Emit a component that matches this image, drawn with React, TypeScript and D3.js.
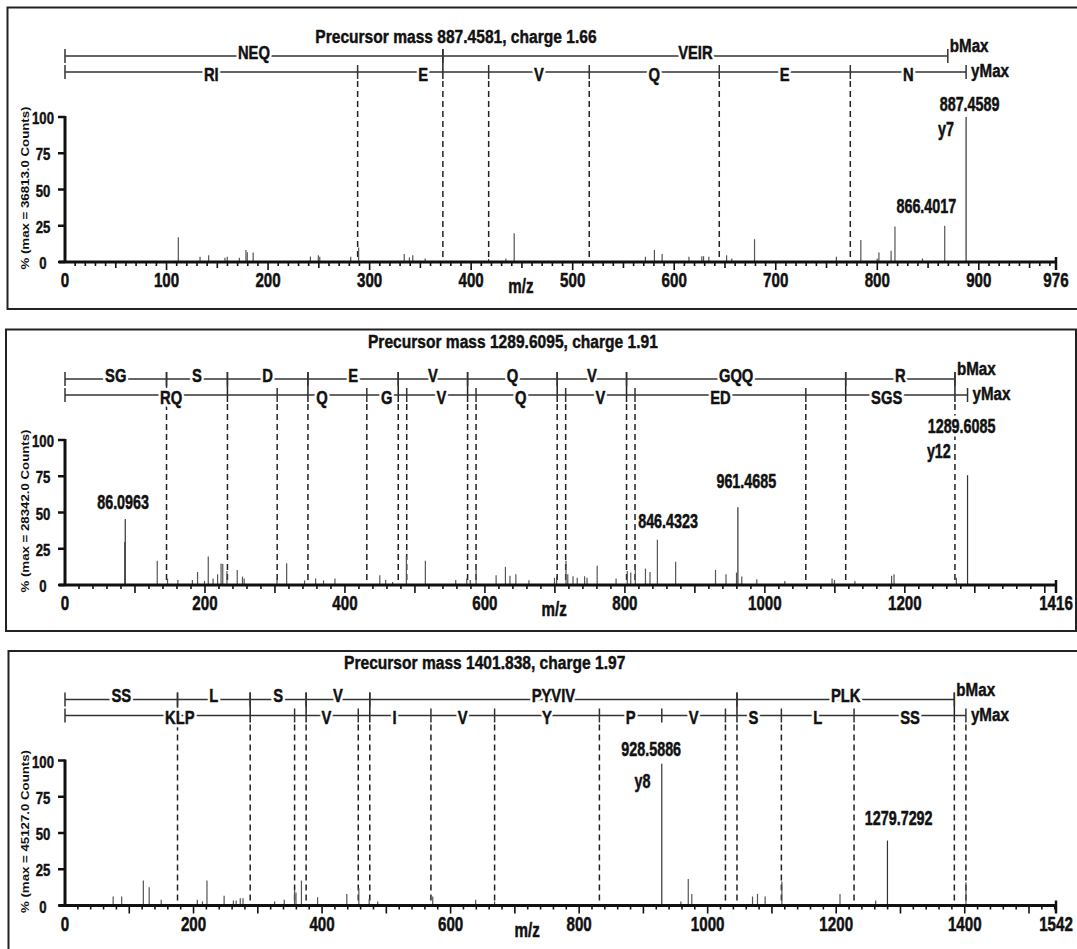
import React from "react";
import * as d3 from "d3";

const X_LEFT = 65;
const X_RIGHT = 1056;
const PLOT_H = 145;
const FONT = "'Liberation Sans', Arial, Helvetica, sans-serif";

// ---------- panel 1 : NEQVEIR ----------
const p1Peaks: [number, number][] = [
  [111.6, 17], [133, 3.7], [141.5, 4.6], [157.5, 3], [159.8, 3.7], [171.7, 3],
  [178.2, 8.3], [179.5, 6.7], [185.3, 6.5], [241.7, 3.7], [249.5, 4.6], [250.9, 3.7],
  [281.4, 3.7], [289.2, 10], [334.1, 5.5], [339.2, 3.2], [342.5, 4.6], [354.7, 2.5],
  [417.2, 2], [434.2, 2.5], [442.4, 19.8], [571.6, 3.7], [580.5, 8.3], [588.1, 5.5],
  [614.5, 3.7], [627.2, 4], [628.9, 4], [634.1, 3.7], [651.6, 4.6], [656.7, 2.5],
  [679.1, 15.7], [759.7, 3.7], [783.8, 15.2], [799.9, 2.5], [801.6, 6.5], [813.6, 7.8],
  [817.4, 24.4], [844.5, 2.5], [866.4017, 25], [887.4589, 100],
];
const p1BTicks = [0, 372.15, 869.44];
const p1BLabels = ["NEQ", "VEIR"];
const p1YTicks = [0, 288.2, 417.25, 516.31, 644.37, 773.42, 887.46];
const p1YLabels = ["RI", "E", "V", "Q", "E", "N"];
const p1Dashed = [288.2, 372.15, 417.25, 516.31, 644.37, 773.42];
const p1AxisLabels = [0, 100, 200, 300, 400, 500, 600, 700, 800, 900, 976];
const p1Notes = [
  { text: "887.4589", mz: 890.9, pct: 103.9 },
  { text: "y7", mz: 867.7, pct: 86.6 },
  { text: "866.4017", mz: 848.3, pct: 33.6 },
];

// ---------- panel 2 : SGSDEVQVGQQR ----------
const p2Peaks: [number, number][] = [
  [85.3, 29.7], [86.0963, 45.6], [131.8, 16.7], [146.5, 4.4], [161.3, 3.5], [182, 3.5],
  [189.4, 9], [199.3, 2.8], [204.7, 19.7], [211.6, 4.4], [218, 7.4], [223, 14.8],
  [225.4, 14.4], [231.4, 9.7], [246.1, 10.4], [253.6, 5.8], [256, 4.4], [302.9, 3.9],
  [316.7, 15], [342.3, 3.2], [358.1, 4.4], [369.4, 3.2], [385.7, 4.4], [449.8, 6.7],
  [458.2, 3.5], [468.1, 2], [487.8, 19.7], [514.9, 16.7], [558.3, 3.5], [574.1, 4.4],
  [579, 3.5], [587.4, 13.2], [616, 6.7], [629.3, 12.5], [635.8, 6.3], [644.2, 7.4],
  [662.9, 3.2], [699.4, 5], [702.4, 6], [715.9, 16.7], [718.4, 7.4], [725.9, 6],
  [731.9, 5], [742.4, 6], [745.9, 5], [760.4, 13.2], [787.4, 4.4], [803.4, 9.7],
  [808.4, 8.6], [814.9, 14.4], [829.4, 11.3], [835.9, 9], [846.4323, 31.2], [872.5, 16],
  [929.5, 10.4], [944.5, 7.4], [959.5, 8.6], [961.4685, 53.7], [967, 5.8], [988.5, 3.9],
  [1028.5, 2.8], [1096, 4.4], [1099.5, 3.5], [1128.6, 2.8], [1181.1, 6.3], [1184.6, 7.4],
  [1273.6, 5], [1289.6085, 75.7],
];
const p2BTicks = [0, 145.06, 232.09, 347.12, 476.16, 575.23, 703.29, 802.36, 1115.5, 1271.6];
const p2BLabels = ["SG", "S", "D", "E", "V", "Q", "V", "GQQ", "R"];
const p2YTicks = [0, 303.18, 431.24, 488.26, 587.33, 715.39, 814.46, 1058.53, 1289.61];
const p2YLabels = ["RQ", "Q", "G", "V", "Q", "V", "ED", "SGS"];
const p2Dashed = [
  145.06, 232.09, 303.18, 347.12, 431.24, 476.16, 488.26, 575.23, 587.33,
  703.29, 715.39, 802.36, 814.46, 1058.53, 1115.5, 1271.6,
];
const p2AxisLabels = [0, 200, 400, 600, 800, 1000, 1200, 1416];
const p2Notes = [
  { text: "86.0963", mz: 83, pct: 52.3 },
  { text: "846.4323", mz: 861.7, pct: 39.1 },
  { text: "961.4685", mz: 973.5, pct: 66.9 },
  { text: "1289.6085", mz: 1281.1, pct: 104.6 },
  { text: "y12", mz: 1248.6, pct: 87.3 },
];

// ---------- panel 3 : SSLSVPYVIVPLK ----------
const p3Peaks: [number, number][] = [
  [74.9, 6.2], [88.2, 6.2], [121.9, 17.2], [131, 12.6], [149.7, 3.9], [205.9, 3.9],
  [213.9, 2.8], [220.9, 17.2], [247.6, 6.7], [262, 3.4], [266.3, 3.4], [272.7, 5],
  [277, 5], [326.2, 2.8], [341.2, 3.9], [357.2, 10.3], [359.4, 9], [367.9, 17.2],
  [393, 5.7], [438.5, 8], [457.2, 12], [473.3, 4.4], [486.6, 2.8], [572.2, 6.2],
  [639, 3.9], [668.4, 2.8], [928.5886, 97.7], [958.3, 2.8], [969.8, 18.2], [975.3, 8],
  [1069.8, 6.2], [1077.5, 8], [1089.4, 6.2], [1115.5, 16.6], [1205.9, 8], [1261.4, 3.4],
  [1279.7292, 44.8], [1401.9, 16],
];
const p3BTicks = [0, 175.07, 288.16, 375.19, 474.26, 1045.6, 1383.82];
const p3BLabels = ["SS", "L", "S", "V", "PYVIV", "PLK"];
const p3YTicks = [0, 357.25, 456.32, 569.4, 668.47, 831.53, 928.59, 1027.65, 1114.69, 1227.77, 1401.83];
const p3YLabels = ["KLP", "V", "I", "V", "Y", "P", "V", "S", "L", "SS"];
const p3Dashed = [
  175.07, 288.16, 357.25, 375.19, 456.32, 474.26, 569.4, 668.47, 831.53,
  1027.65, 1045.6, 1114.69, 1227.77, 1383.82, 1401.83,
];
const p3AxisLabels = [0, 200, 400, 600, 800, 1000, 1200, 1400, 1542];
const p3Notes = [
  { text: "928.5886", mz: 912.1, pct: 102.8 },
  { text: "y8", mz: 898.5, pct: 80.9 },
  { text: "1279.7292", mz: 1297.2, pct: 55.6 },
];

const yTickValues = [0, 25, 50, 75, 100];

const panels = [
  {
    title: "Precursor mass 887.4581, charge 1.66", titleMz: 385, titleDy: -219,
    counts: "36813.0", max: 976, minor: 10, base: 262, mzLabelAt: 449,
    box: { x: 7.5, y: 7.5, w: 1085, h: 301.5 },
    peaks: p1Peaks, bTicks: p1BTicks, bLabels: p1BLabels, yTicks: p1YTicks,
    yLabels: p1YLabels, dashed: p1Dashed, axisLabels: p1AxisLabels, notes: p1Notes,
  },
  {
    title: "Precursor mass 1289.6095, charge 1.91", titleMz: 640, titleDy: -237,
    counts: "28342.0", max: 1416, minor: 20, base: 585, mzLabelAt: 699,
    box: { x: 6, y: 329.5, w: 1070, h: 301.5 },
    peaks: p2Peaks, bTicks: p2BTicks, bLabels: p2BLabels, yTicks: p2YTicks,
    yLabels: p2YLabels, dashed: p2Dashed, axisLabels: p2AxisLabels, notes: p2Notes,
  },
  {
    title: "Precursor mass 1401.838, charge 1.97", titleMz: 653, titleDy: -237,
    counts: "45127.0", max: 1542, minor: 20, base: 905.5, mzLabelAt: 719,
    box: { x: 8.5, y: 651, w: 1085, h: 320 },
    peaks: p3Peaks, bTicks: p3BTicks, bLabels: p3BLabels, yTicks: p3YTicks,
    yLabels: p3YLabels, dashed: p3Dashed, axisLabels: p3AxisLabels, notes: p3Notes,
  },
];

// narrow bold text: Arial squeezed horizontally, optionally stretched vertically
function Txt({ x, y, size, children, anchor = "middle", sx = 0.82, sy = 1, knock = false }: any) {
  const common = {
    textAnchor: anchor,
    fontSize: size,
    fontWeight: "bold",
    fontFamily: FONT,
    strokeLinejoin: "round" as const,
  };
  return (
    <g transform={`translate(${x},${y}) scale(${sx},${sy})`}>
      {knock && (
        <text {...common} fill="#fff" stroke="#fff" strokeWidth={6}>{children}</text>
      )}
      <text {...common} fill="#111" stroke="#111" strokeWidth={0.45}>{children}</text>
    </g>
  );
}

function Spectrum({ cfg }: any) {
  const x = d3.scaleLinear().domain([0, cfg.max]).range([X_LEFT, X_RIGHT]);
  const y = d3.scaleLinear().domain([0, 100]).range([cfg.base, cfg.base - PLOT_H]);
  const bRow = cfg.base - 206;
  const yRow = cfg.base - 190;
  const minorTicks = d3.range(cfg.minor, cfg.max, cfg.minor);
  const tickLen = (v: number) => (v % 100 === 0 ? 8 : v % 50 === 0 && cfg.minor === 10 ? 6 : 4);

  const rowParts = (ticks: number[], rowY: number, key: string) => (
    <g key={key} stroke="#333" strokeWidth={1.5}>
      <line x1={x(ticks[0])} x2={x(ticks[ticks.length - 1])} y1={rowY} y2={rowY} />
      {ticks.map((t, i) => (
        <line key={i} x1={x(t)} x2={x(t)} y1={rowY - 7} y2={rowY + 7} />
      ))}
    </g>
  );

  return (
    <g>
      <rect x={cfg.box.x} y={cfg.box.y} width={cfg.box.w} height={cfg.box.h}
        fill="none" stroke="#222" strokeWidth={2} />

      {/* fragment ladder dashed guides */}
      {cfg.dashed.map((v: number, i: number) => {
        const isB = cfg.bTicks.includes(v);
        return (
          <g key={i} stroke="#222" strokeWidth={1.5}>
            {isB && <line x1={x(v)} x2={x(v)} y1={bRow - 7} y2={yRow + 7} />}
            <line x1={x(v)} x2={x(v)} y1={yRow + 9} y2={cfg.base - 2} strokeDasharray="6,4" />
          </g>
        );
      })}

      {/* spectrum peaks */}
      {cfg.peaks.map((p: [number, number], i: number) => (
        <line key={i} x1={x(p[0])} x2={x(p[0])} y1={y(0)} y2={y(p[1])}
          stroke={p[1] > 40 ? "#333" : "#555"} strokeWidth={1.2} />
      ))}

      {rowParts(cfg.bTicks, bRow, "b")}
      {rowParts(cfg.yTicks, yRow, "y")}
      {cfg.bLabels.map((l: string, i: number) => (
        <Txt key={"bl" + i} x={x((cfg.bTicks[i] + cfg.bTicks[i + 1]) / 2)} y={bRow + 2.5}
          size={18} sy={1.07} knock>{l}</Txt>
      ))}
      {cfg.yLabels.map((l: string, i: number) => (
        <Txt key={"yl" + i} x={x((cfg.yTicks[i] + cfg.yTicks[i + 1]) / 2)} y={yRow + 8.5}
          size={18} sy={1.07} knock>{l}</Txt>
      ))}
      <Txt x={x(cfg.bTicks[cfg.bTicks.length - 1]) + 2} y={bRow - 4} size={18.5} anchor="start">bMax</Txt>
      <Txt x={x(cfg.yTicks[cfg.yTicks.length - 1]) + 5} y={yRow + 5} size={18.5} anchor="start">yMax</Txt>

      {/* axes */}
      <line x1={X_LEFT - 6} x2={X_RIGHT} y1={cfg.base} y2={cfg.base} stroke="#111" strokeWidth={3} />
      <line x1={X_LEFT} x2={X_LEFT} y1={cfg.base + 1} y2={y(100) - 1} stroke="#111" strokeWidth={3} />
      {minorTicks.map((v: number) => (
        <line key={v} x1={x(v)} x2={x(v)} y1={cfg.base} y2={cfg.base + tickLen(v)}
          stroke="#111" strokeWidth={1.6} />
      ))}
      <line x1={X_RIGHT} x2={X_RIGHT} y1={cfg.base - 5} y2={cfg.base + 8} stroke="#111" strokeWidth={2.5} />
      {yTickValues.map((v) => (
        <g key={v}>
          <line x1={X_LEFT - 7} x2={X_LEFT} y1={y(v)} y2={y(v)} stroke="#111" strokeWidth={2.5} />
          <Txt x={X_LEFT - 22} y={y(v) + 7} size={16}>{v}</Txt>
        </g>
      ))}
      {cfg.axisLabels.map((v: number) => (
        <Txt key={v} x={x(v)} y={cfg.base + 25} size={18.5} sy={1.12}>{v}</Txt>
      ))}
      <Txt x={x(cfg.mzLabelAt)} y={cfg.base + 31} size={18.5} sy={1.12}>m/z</Txt>

      <text transform={`translate(25,${cfg.base - 74}) rotate(-90)`} textAnchor="middle"
        dominantBaseline="central" fontSize={11} fontWeight="bold" fontFamily={FONT}
        fill="#111" textLength={163} lengthAdjust="spacingAndGlyphs">
        {`% (max = ${cfg.counts} Counts)`}
      </text>

      {cfg.notes.map((n: any, i: number) => (
        <Txt key={"n" + i} x={x(n.mz)} y={y(n.pct)} size={17.5} sy={1.2} knock>{n.text}</Txt>
      ))}

      <Txt x={x(cfg.titleMz)} y={cfg.base + cfg.titleDy} size={19}>{cfg.title}</Txt>
    </g>
  );
}

export default function App() {
  return (
    <svg width={1077} height={949} style={{ position: "absolute", left: 0, top: 0, background: "#fff" }}>
      {panels.map((p, i) => (
        <Spectrum key={i} cfg={p} />
      ))}
    </svg>
  );
}
